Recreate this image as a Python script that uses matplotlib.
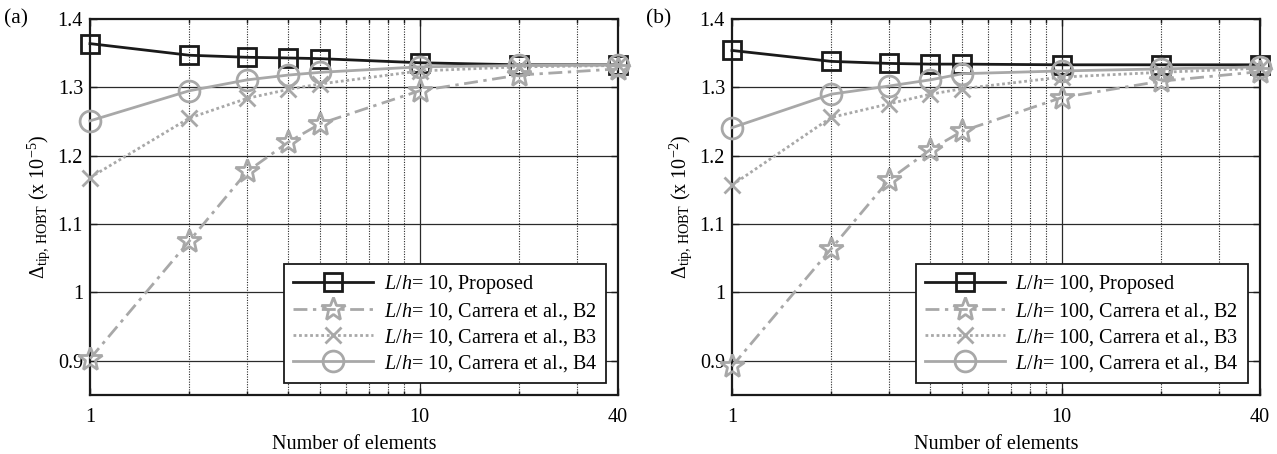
import matplotlib
matplotlib.use("Agg")
import matplotlib.pyplot as plt
from matplotlib.ticker import FixedLocator, FixedFormatter, NullFormatter

# Number of beam elements
n_elem = [1, 2, 3, 4, 5, 10, 20, 40]

# (a) L/h = 10, tip deflection (x 1e-5)
a_proposed = [1.364, 1.347, 1.344, 1.343, 1.342, 1.336, 1.333, 1.333]
a_b2 = [0.903, 1.075, 1.177, 1.220, 1.247, 1.295, 1.318, 1.327]
a_b3 = [1.168, 1.255, 1.284, 1.297, 1.305, 1.324, 1.330, 1.332]
a_b4 = [1.251, 1.295, 1.311, 1.318, 1.322, 1.330, 1.332, 1.333]

# (b) L/h = 100, tip deflection (x 1e-2)
b_proposed = [1.354, 1.338, 1.335, 1.334, 1.334, 1.333, 1.333, 1.333]
b_b2 = [0.892, 1.064, 1.165, 1.209, 1.236, 1.285, 1.309, 1.323]
b_b3 = [1.157, 1.256, 1.276, 1.290, 1.298, 1.315, 1.322, 1.328]
b_b4 = [1.241, 1.290, 1.302, 1.311, 1.320, 1.324, 1.327, 1.330]

y_ticks = [0.9, 1.0, 1.1, 1.2, 1.3, 1.4]
y_ticklabels = ["0.9", "1", "1.1", "1.2", "1.3", "1.4"]
x_ticks = [1, 10, 40]
x_ticklabels = ["1", "10", "40"]
x_minor = [2, 3, 4, 5, 6, 7, 8, 9, 20, 30]

plt.rcParams["font.family"] = ["Liberation Serif", "DejaVu Serif"]
plt.rcParams["mathtext.fontset"] = "custom"
plt.rcParams["mathtext.rm"] = "Liberation Serif"
plt.rcParams["mathtext.it"] = "Liberation Serif:italic"
plt.rcParams["mathtext.bf"] = "Liberation Serif:bold"

FS = 14.5
BLACK = "#1a1a1a"
GRAY = "#a8a8a8"

fig = plt.figure(figsize=(12.77, 4.54), dpi=100)
W, H = 1277, 454
ax_a = fig.add_axes([90 / W, (H - 395) / H, 528 / W, 376 / H])
ax_b = fig.add_axes([732 / W, (H - 395) / H, 528 / W, 376 / H])


def draw_panel(ax, lh, exp, proposed, b2, b3, b4, tag):
    ax.set_xscale("log")
    ax.set_xlim(1, 40)
    ax.set_ylim(0.85, 1.4)

    # grid: solid horizontal and decade lines, dotted minor verticals
    for y in y_ticks[:-1]:
        ax.axhline(y, color="#2a2a2a", lw=0.9, zorder=0.5)
    ax.axvline(10, color="#2a2a2a", lw=0.9, zorder=0.5)
    for x in x_minor:
        ax.axvline(x, color="#2a2a2a", lw=0.8, ls=(0, (1, 1.3)), zorder=0.5)

    kw = dict(markerfacecolor="none", markeredgewidth=2.0, lw=2.0, clip_on=False)
    ax.plot(n_elem, proposed, color=BLACK, marker="s", markersize=12.5,
            label=rf"$L/h$= {lh}, Proposed", zorder=3, **kw)
    ax.plot(n_elem, b2, color=GRAY, marker="*", markersize=18, ls=(0, (5, 2, 1.2, 2)),
            label=rf"$L/h$= {lh}, Carrera et al., B2", zorder=3, **kw)
    ax.plot(n_elem, b3, color=GRAY, marker="x", markersize=12, ls=(0, (1, 1)),
            label=rf"$L/h$= {lh}, Carrera et al., B3", zorder=3, **kw)
    ax.plot(n_elem, b4, color=GRAY, marker="o", markersize=15,
            label=rf"$L/h$= {lh}, Carrera et al., B4", zorder=3, **kw)

    ax.xaxis.set_major_locator(FixedLocator(x_ticks))
    ax.xaxis.set_major_formatter(FixedFormatter(x_ticklabels))
    ax.xaxis.set_minor_locator(FixedLocator(x_minor))
    ax.xaxis.set_minor_formatter(NullFormatter())
    ax.yaxis.set_major_locator(FixedLocator(y_ticks))
    ax.yaxis.set_major_formatter(FixedFormatter(y_ticklabels))

    ax.tick_params(which="both", direction="in", top=True, right=True,
                   labelsize=FS, width=1.0, color=BLACK)
    ax.tick_params(which="major", length=5)
    ax.tick_params(which="minor", length=3)
    ax.tick_params(axis="x", which="major", pad=9)
    ax.tick_params(axis="y", which="major", pad=5)

    for sp in ax.spines.values():
        sp.set_linewidth(1.6)
        sp.set_color(BLACK)
        sp.set_zorder(2.5)

    ax.set_xlabel("Number of elements", fontsize=FS, labelpad=6)
    ax.set_ylabel(rf"$\Delta_{{\mathrm{{tip,\,HOBT}}}}$ (x 10$^{{-{exp}}}$)",
                  fontsize=FS, labelpad=4)

    leg = ax.legend(loc="lower right", fontsize=FS, handlelength=4.0,
                    handletextpad=0.5, labelspacing=0.25, borderpad=0.45,
                    borderaxespad=0.6, fancybox=False, framealpha=1,
                    edgecolor=BLACK)
    leg.get_frame().set_linewidth(1.3)
    leg.set_zorder(5)

    ax.text(-0.162, 1.0, tag, transform=ax.transAxes, fontsize=FS + 1,
            ha="left", va="center")


draw_panel(ax_a, 10, 5, a_proposed, a_b2, a_b3, a_b4, "(a)")
draw_panel(ax_b, 100, 2, b_proposed, b_b2, b_b3, b_b4, "(b)")

fig.savefig("out.png", dpi=100)
